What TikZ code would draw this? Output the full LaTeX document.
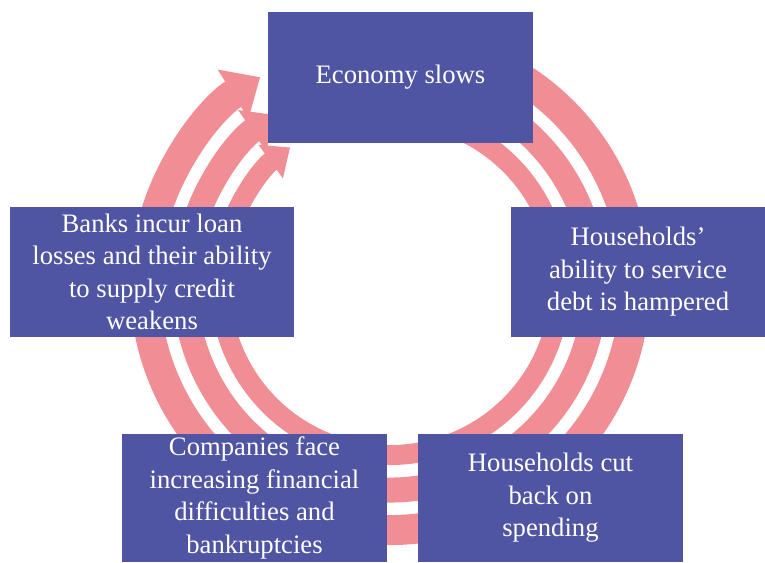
\documentclass[tikz,border=0pt]{standalone}
\usepackage{fontspec}
\setmainfont{Liberation Serif}
\usetikzlibrary{arrows.meta}
\definecolor{boxblue}{RGB}{79,84,163}
\definecolor{ringpink}{RGB}{241,141,148}

\begin{document}
\begin{tikzpicture}[x=0.75pt,y=0.75pt,
	stage/.style={fill=boxblue,text=white,align=center,inner sep=0pt,
		font=\fontsize{20}{24.4}\selectfont},
	ring/.style={draw=ringpink,line cap=butt}]
	\useasboundingbox (0,0) rectangle (765,562);
	\coordinate (c) at (390,277);

	% the three loops, clockwise
	\draw[ring,line width=22.5pt,-{Triangle[length=24pt,width=42pt]}]
		([shift={(70:245)}]c) arc[start angle=70,end angle=-238,radius=245];
	\draw[ring,line width=18.75pt,-{Triangle[length=21pt,width=36pt]}]
		([shift={(70:205)}]c) arc[start angle=70,end angle=-236,radius=205];
	\draw[ring,line width=15pt,-{Triangle[length=18pt,width=30pt]}]
		([shift={(70:170)}]c) arc[start angle=70,end angle=-234,radius=170];

	\node[stage,minimum width=198.75pt,minimum height=98.25pt] (slows) at (400.5,484.5) {Economy slows};
	\node[stage,minimum width=190.5pt,minimum height=97.5pt] (service) at (638,290) {Households'\\ability to service\\debt is hampered};
	\node[stage,minimum width=198.75pt,minimum height=96pt] (spending) at (550.5,64) {Households cut\\back on\\spending};
	\node[stage,minimum width=198.75pt,minimum height=96pt] (firms) at (254.5,64) {Companies face\\increasing financial\\difficulties and\\bankruptcies};
	\node[stage,minimum width=213pt,minimum height=97.5pt] (credit) at (152,290) {Banks incur loan\\losses and their ability\\to supply credit\\weakens};
\end{tikzpicture}
\end{document}
